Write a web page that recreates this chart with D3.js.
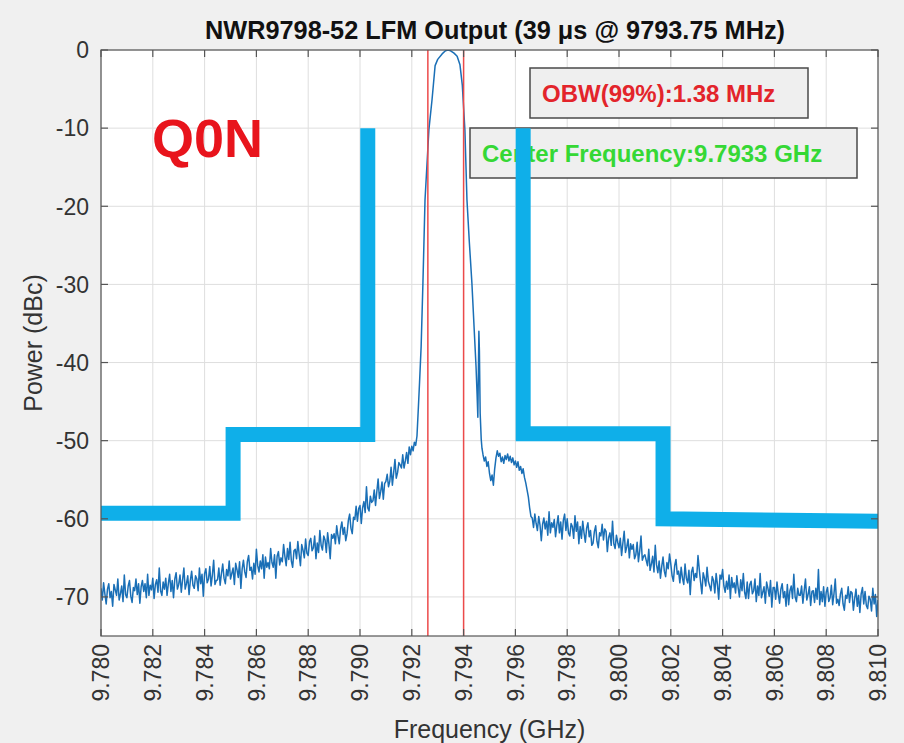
<!DOCTYPE html>
<html><head><meta charset="utf-8">
<script src="https://cdn.jsdelivr.net/npm/d3@7"></script>
<style>
html,body{margin:0;padding:0;background:#f0f0f0;}
svg{display:block;font-family:"Liberation Sans",Arial,Helvetica,sans-serif;}
</style></head>
<body>
<svg id="chart" width="904" height="743"></svg>
<script>
// ---- data ----
const titleText = "NWR9798-52 LFM Output (39 \u03bcs @ 9793.75 MHz)";
const xLabel = "Frequency (GHz)";
const yLabel = "Power (dBc)";
const freqTicks = [9.780,9.782,9.784,9.786,9.788,9.790,9.792,9.794,9.796,9.798,9.800,9.802,9.804,9.806,9.808,9.810];
const powerTicks = [0,-10,-20,-30,-40,-50,-60,-70];
const freqDomain = [9.780, 9.810];
const powerDomain = [-75, 0];
const baseGHz = 9.780; // spectrum offsets below are MHz above this frequency

// measured spectrum: [MHz offset from 9.780 GHz, dBc]
const leftFloor = [
[0.00,-68.9],[0.05,-70.4],[0.10,-68.2],[0.15,-69.6],[0.20,-70.9],[0.25,-69.0],[0.30,-68.3],[0.35,-70.1],[0.40,-69.3],[0.45,-71.2],
[0.50,-68.4],[0.55,-69.1],[0.60,-69.8],[0.65,-67.7],[0.70,-70.4],[0.75,-69.6],[0.80,-68.6],[0.85,-70.6],[0.90,-67.2],[0.95,-69.7],
[1.00,-70.1],[1.05,-68.6],[1.10,-67.9],[1.15,-69.9],[1.20,-70.7],[1.25,-68.8],[1.30,-69.2],[1.35,-67.7],[1.40,-69.7],[1.45,-68.3],
[1.50,-70.8],[1.55,-68.7],[1.60,-67.9],[1.65,-69.3],[1.70,-68.3],[1.75,-70.1],[1.80,-67.1],[1.85,-69.8],[1.90,-68.5],[1.95,-69.1],
[2.00,-67.6],[2.05,-70.2],[2.10,-68.4],[2.15,-67.8],[2.20,-69.4],[2.25,-66.3],[2.30,-69.2],[2.35,-69.8],[2.40,-68.1],[2.45,-69.0],
[2.50,-67.6],[2.55,-69.8],[2.60,-68.3],[2.65,-67.1],[2.70,-69.3],[2.75,-67.9],[2.80,-70.1],[2.85,-67.7],[2.90,-66.9],[2.95,-69.0],
[3.00,-68.4],[3.05,-67.2],[3.10,-69.4],[3.15,-67.8],[3.20,-66.3],[3.25,-69.0],[3.30,-68.3],[3.35,-67.3],[3.40,-69.7],[3.45,-67.9],
[3.50,-66.7],[3.55,-68.5],[3.60,-68.9],[3.65,-67.3],[3.70,-67.7],[3.75,-69.2],[3.80,-66.3],[3.85,-68.3],[3.90,-67.1],[3.95,-69.9],
[4.00,-67.0],[4.05,-66.4],[4.10,-68.2],[4.15,-67.7],[4.20,-66.1],[4.25,-68.6],[4.30,-67.2],[4.35,-65.3],[4.40,-68.4],[4.45,-67.9],
[4.50,-67.8],[4.55,-66.3],[4.60,-68.5],[4.65,-67.0],[4.70,-65.8],[4.75,-67.6],[4.80,-68.3],[4.85,-66.5],[4.90,-67.3],[4.95,-65.4],
[5.00,-67.7],[5.05,-67.0],[5.10,-66.3],[5.15,-68.4],[5.20,-65.7],[5.25,-66.5],[5.30,-67.5],[5.35,-65.5],[5.40,-68.9],[5.45,-66.4],
[5.50,-65.3],[5.55,-66.8],[5.60,-67.5],[5.65,-65.5],[5.70,-64.7],[5.75,-66.6],[5.80,-66.2],[5.85,-67.7],[5.90,-65.7],[5.95,-67.1],
[6.00,-63.9],[6.05,-66.0],[6.10,-66.8],[6.15,-65.4],[6.20,-66.4],[6.25,-64.6],[6.30,-67.6],[6.35,-64.9],[6.40,-66.2],[6.45,-65.6],
[6.50,-66.4],[6.55,-63.8],[6.60,-65.6],[6.65,-66.2],[6.70,-64.6],[6.75,-67.6],[6.80,-64.8],[6.85,-64.2],[6.90,-65.9],[6.95,-65.0],
[7.00,-65.5],[7.05,-63.3],[7.10,-64.8],[7.15,-66.0],[7.20,-63.8],[7.25,-65.2],[7.30,-63.0],[7.35,-65.4],[7.40,-66.2],[7.45,-64.1],
[7.50,-63.9],[7.55,-65.1],[7.60,-62.9],[7.65,-64.5],[7.70,-66.0],[7.75,-63.3],[7.80,-64.0],[7.85,-65.0],[7.90,-62.6],[7.95,-64.4],
[8.00,-64.7],[8.05,-62.9],[8.10,-62.5],[8.15,-64.1],[8.20,-63.7],[8.25,-62.2],[8.30,-65.1],[8.35,-63.1],[8.40,-64.3],[8.45,-61.5],
[8.50,-63.4],[8.55,-64.0],[8.60,-62.2],[8.65,-62.7],[8.70,-64.3],[8.75,-61.8],[8.80,-63.2],[8.85,-65.1],[8.90,-62.0],[8.95,-62.5],
[9.00,-61.9],[9.05,-63.2],[9.10,-60.9],[9.15,-62.2],[9.20,-63.2],[9.25,-61.3],[9.30,-60.4],[9.35,-62.0],[9.40,-61.1],[9.45,-62.8],
[9.50,-61.9],[9.55,-60.2],[9.60,-59.4],[9.65,-61.2],[9.70,-61.9],[9.75,-59.8],[9.80,-60.1],[9.85,-58.4],[9.90,-60.3],[9.95,-58.7],
[10.00,-58.3],[10.05,-60.6],[10.10,-58.6],[10.15,-57.8],[10.20,-59.2],[10.25,-55.9],[10.30,-58.6],[10.35,-59.0],[10.40,-57.1],[10.45,-57.9],
[10.50,-57.7],[10.55,-56.3],[10.60,-58.3],[10.65,-56.5],[10.70,-54.9],[10.75,-57.4],[10.80,-56.5],[10.85,-55.3],[10.90,-57.5],[10.95,-55.5],
[11.00,-55.2],[11.05,-54.3],[11.10,-55.9],[11.15,-55.2],[11.20,-53.4],[11.25,-55.7],[11.30,-54.1],[11.35,-52.4],[11.40,-54.8],[11.45,-54.1],
[11.50,-52.8],[11.55,-53.1],[11.60,-53.5],[11.65,-51.8],[11.70,-53.5],[11.75,-52.6],[11.80,-51.5],[11.85,-52.9],[11.90,-50.8],[11.95,-51.8],
[12.00,-50.7],[12.05,-51.3],[12.10,-50.2],[12.15,-50.6]
];
const mainLobe = [
[12.2,-49.4],[12.25,-46.0],[12.3,-42.5],[12.36,-38.0],[12.43,-29.8],[12.51,-19.2],[12.66,-10.2],[12.78,-6.4],
[12.9,-2.0],[13.0,-1.2],[13.17,-0.5],[13.3,-0.1],[13.4,0.0],[13.5,-0.1],[13.63,-0.4],[13.75,-0.8],[13.86,-1.9],
[13.95,-4.5],[14.05,-10.2],[14.13,-19.2],[14.22,-24.5],[14.32,-29.8],[14.48,-40.5],[14.52,-44.0],[14.55,-47.0],
[14.59,-36.0],[14.61,-38.5],[14.64,-46.5],[14.68,-49.8],[14.71,-51.0]
];
const rightFloor = [
[14.75,-51.8],[14.80,-52.6],[14.85,-52.1],[14.90,-53.3],[14.95,-52.7],[15.00,-54.2],[15.05,-55.1],[15.10,-54.4],[15.15,-55.7],[15.20,-53.6],
[15.25,-52.2],[15.30,-51.3],[15.35,-52.0],[15.40,-51.6],[15.45,-52.7],[15.50,-52.1],[15.55,-52.9],[15.60,-51.9],[15.65,-52.4],[15.70,-51.7],
[15.75,-52.6],[15.80,-52.0],[15.85,-52.8],[15.90,-52.2],[15.95,-53.1],[16.00,-52.6],[16.05,-53.4],[16.10,-52.7],[16.15,-53.8],[16.20,-53.3],
[16.25,-54.2],[16.30,-53.6],[16.35,-54.7],[16.40,-55.4],[16.45,-56.3],[16.50,-57.2],[16.55,-58.6],[16.60,-59.7],
[16.65,-59.9],[16.70,-61.1],[16.75,-59.4],[16.80,-60.6],[16.85,-61.5],[16.90,-59.7],[16.95,-60.8],
[17.00,-62.8],[17.05,-60.7],[17.10,-59.9],[17.15,-61.3],[17.20,-60.3],[17.25,-62.1],[17.30,-59.1],[17.35,-61.8],[17.40,-60.5],[17.45,-61.1],
[17.50,-60.1],[17.55,-62.3],[17.60,-60.8],[17.65,-59.6],[17.70,-61.8],[17.75,-60.4],[17.80,-62.6],[17.85,-60.2],[17.90,-59.4],[17.95,-61.5],
[18.00,-60.0],[18.05,-61.8],[18.10,-62.2],[18.15,-60.6],[18.20,-61.0],[18.25,-62.5],[18.30,-59.6],[18.35,-61.6],[18.40,-60.4],[18.45,-63.2],
[18.50,-61.0],[18.55,-62.5],[18.60,-60.3],[18.65,-61.8],[18.70,-63.0],[18.75,-61.2],[18.80,-60.5],[18.85,-62.3],[18.90,-61.5],[18.95,-63.4],
[19.00,-63.1],[19.05,-61.6],[19.10,-60.9],[19.15,-62.9],[19.20,-63.7],[19.25,-61.8],[19.30,-62.2],[19.35,-60.7],[19.40,-62.7],[19.45,-61.3],
[19.50,-61.6],[19.55,-64.2],[19.60,-62.4],[19.65,-61.8],[19.70,-63.4],[19.75,-60.3],[19.80,-63.2],[19.85,-63.8],[19.90,-62.1],[19.95,-63.0],
[20.00,-63.7],[20.05,-62.5],[20.10,-64.7],[20.15,-63.1],[20.20,-61.6],[20.25,-64.3],[20.30,-63.6],[20.35,-62.6],[20.40,-65.0],[20.45,-63.2],
[20.50,-63.9],[20.55,-63.3],[20.60,-65.1],[20.65,-64.6],[20.70,-63.0],[20.75,-65.5],[20.80,-64.1],[20.85,-62.2],[20.90,-65.3],[20.95,-64.8],
[21.00,-64.6],[21.05,-65.3],[21.10,-66.0],[21.15,-63.9],[21.20,-66.6],[21.25,-65.8],[21.30,-64.8],[21.35,-66.8],[21.40,-63.4],[21.45,-65.9],
[21.50,-66.9],[21.55,-65.4],[21.60,-67.6],[21.65,-66.1],[21.70,-64.9],[21.75,-66.7],[21.80,-67.4],[21.85,-65.6],[21.90,-66.4],[21.95,-64.5],
[22.00,-65.8],[22.05,-67.3],[22.10,-68.0],[22.15,-66.0],[22.20,-65.2],[22.25,-67.1],[22.30,-66.7],[22.35,-68.2],[22.40,-66.2],[22.45,-67.6],
[22.50,-68.4],[22.55,-65.8],[22.60,-67.6],[22.65,-68.2],[22.70,-66.6],[22.75,-69.7],[22.80,-66.8],[22.85,-66.2],[22.90,-67.9],[22.95,-67.0],
[23.00,-67.5],[23.05,-64.7],[23.10,-66.5],[23.15,-68.1],[23.20,-69.6],[23.25,-66.9],[23.30,-67.6],[23.35,-68.6],[23.40,-66.2],[23.45,-68.0],
[23.50,-68.6],[23.55,-69.2],[23.60,-67.4],[23.65,-67.9],[23.70,-69.5],[23.75,-67.0],[23.80,-68.4],[23.85,-70.3],[23.90,-67.2],[23.95,-67.7],
[24.00,-66.5],[24.05,-68.6],[24.10,-69.4],[24.15,-68.0],[24.20,-69.0],[24.25,-67.2],[24.30,-70.2],[24.35,-67.5],[24.40,-68.8],[24.45,-68.2],
[24.50,-69.5],[24.55,-67.3],[24.60,-68.8],[24.65,-70.0],[24.70,-67.8],[24.75,-69.2],[24.80,-67.0],[24.85,-69.4],[24.90,-70.2],[24.95,-68.1],
[25.00,-70.2],[25.05,-68.4],[25.10,-68.0],[25.15,-69.6],[25.20,-69.2],[25.25,-67.7],[25.30,-70.6],[25.35,-68.6],[25.40,-69.8],[25.45,-67.0],
[25.50,-70.1],[25.55,-69.4],[25.60,-68.7],[25.65,-70.8],[25.70,-68.1],[25.75,-68.9],[25.80,-69.9],[25.85,-67.9],[25.90,-71.3],[25.95,-68.8],
[26.00,-68.8],[26.05,-70.3],[26.10,-68.1],[26.15,-69.6],[26.20,-70.8],[26.25,-69.0],[26.30,-68.3],[26.35,-70.1],[26.40,-69.3],[26.45,-71.2],
[26.50,-68.4],[26.55,-71.0],[26.60,-69.2],[26.65,-68.6],[26.70,-70.2],[26.75,-67.1],[26.80,-70.0],[26.85,-70.6],[26.90,-68.9],[26.95,-69.8],
[27.00,-69.8],[27.05,-68.6],[27.10,-70.8],[27.15,-69.2],[27.20,-67.7],[27.25,-70.4],[27.30,-69.7],[27.35,-68.7],[27.40,-71.1],[27.45,-69.3],
[27.50,-69.2],[27.55,-70.7],[27.60,-68.9],[27.65,-70.3],[27.70,-66.5],[27.75,-71.0],[27.80,-69.3],[27.85,-70.6],[27.90,-68.7],[27.95,-71.2],
[28.00,-69.4],[28.05,-68.8],[28.10,-70.6],[28.15,-70.1],[28.20,-68.5],[28.25,-71.0],[28.30,-69.6],[28.35,-67.7],[28.40,-70.8],[28.45,-70.3],
[28.50,-71.1],[28.55,-69.6],[28.60,-68.9],[28.65,-70.9],[28.70,-71.7],[28.75,-69.8],[28.80,-70.2],[28.85,-68.7],[28.90,-70.7],[28.95,-69.3],
[29.00,-69.5],[29.05,-71.7],[29.10,-70.2],[29.15,-69.0],[29.20,-71.2],[29.25,-69.8],[29.30,-72.0],[29.35,-69.6],[29.40,-68.8],[29.45,-70.9],
[29.50,-69.3],[29.55,-71.1],[29.60,-71.5],[29.65,-69.9],[29.70,-70.3],[29.75,-71.8],[29.80,-68.9],[29.85,-70.9],[29.90,-69.7],[29.95,-72.5],
[30.00,-70.4]
];
// spectral emission mask: [GHz, dBc]
const maskLeft = [[9.780,-59.3],[9.7851,-59.3],[9.7851,-49.2],[9.7903,-49.2],[9.7903,-10]];
const maskRight = [[9.7963,-10],[9.7963,-49.1],[9.8017,-49.1],[9.8017,-60.0],[9.810,-60.3]];
// occupied bandwidth edges (GHz)
const obwEdges = [9.79262, 9.79400];
const obwText = "OBW(99%):1.38 MHz";
const centerText = "Center Frequency:9.7933 GHz";
const tagText = "Q0N";

// ---- layout ----
const L = 101, R = 878, T = 50, B = 636;
const svg = d3.select("#chart");
const x = d3.scaleLinear().domain(freqDomain).range([L, R]);
const y = d3.scaleLinear().domain(powerDomain).range([B, T]);

svg.append("rect").attr("width",904).attr("height",743).attr("fill","#f0f0f0");
svg.append("rect").attr("x",L).attr("y",T).attr("width",R-L).attr("height",B-T).attr("fill","#ffffff");

svg.append("defs").append("clipPath").attr("id","plotclip")
  .append("rect").attr("x",L).attr("y",T).attr("width",R-L).attr("height",B-T);

// grid
const grid = svg.append("g").attr("stroke","#dedede").attr("stroke-width",1);
grid.selectAll("line.gx").data(freqTicks).join("line")
  .attr("x1",d=>x(d)).attr("x2",d=>x(d)).attr("y1",T).attr("y2",B);
grid.selectAll("line.gy").data(powerTicks).join("line")
  .attr("y1",d=>y(d)).attr("y2",d=>y(d)).attr("x1",L).attr("x2",R);

const plot = svg.append("g").attr("clip-path","url(#plotclip)");

// spectrum trace
const spectrum = leftFloor.concat(mainLobe, rightFloor).map(d => [baseGHz + d[0]/1000, d[1]]);
const line = d3.line().x(d=>x(d[0])).y(d=>y(d[1]));
plot.append("path").datum(spectrum).attr("d",line)
  .attr("fill","none").attr("stroke","#1a6fb6").attr("stroke-width",1.5).attr("stroke-linejoin","round");

// OBW lines
plot.selectAll("line.obw").data(obwEdges).join("line")
  .attr("x1",d=>x(d)).attr("x2",d=>x(d)).attr("y1",T).attr("y2",B)
  .attr("stroke","#ec4a4a").attr("stroke-width",1.5);

// annotation boxes (figure coordinates)
function box(x0,y0,w,h,txt,color){
  svg.append("rect").attr("x",x0).attr("y",y0).attr("width",w).attr("height",h)
    .attr("fill","#efefef").attr("stroke","#4a4a4a").attr("stroke-width",1.5);
  svg.append("text").attr("x",x0+12).attr("y",y0+h/2).attr("dy","0.36em")
    .attr("fill",color).attr("font-weight","bold").attr("font-size",24).text(txt);
}
box(530,68,278,50,obwText,"#e3242b");
box(470,128,387,50,centerText,"#35d835");

// mask (drawn on top)
const maskG = svg.append("g").attr("clip-path","url(#plotclip)");
[maskLeft, maskRight].forEach(m => {
  maskG.append("path").datum(m).attr("d",line)
    .attr("fill","none").attr("stroke","#0fafe9").attr("stroke-width",15)
    .attr("stroke-linejoin","miter").attr("stroke-linecap","butt");
});

// axes box and ticks
const ax = svg.append("g").attr("stroke","#555").attr("stroke-width",1.2);
ax.append("rect").attr("x",L).attr("y",T).attr("width",R-L).attr("height",B-T).attr("fill","none");
const tl = 7;
freqTicks.forEach(t => {
  ax.append("line").attr("x1",x(t)).attr("x2",x(t)).attr("y1",B).attr("y2",B-tl);
  ax.append("line").attr("x1",x(t)).attr("x2",x(t)).attr("y1",T).attr("y2",T+tl);
});
powerTicks.forEach(t => {
  ax.append("line").attr("y1",y(t)).attr("y2",y(t)).attr("x1",L).attr("x2",L+tl);
  ax.append("line").attr("y1",y(t)).attr("y2",y(t)).attr("x1",R).attr("x2",R-tl);
});

// tick labels
const fmt = d3.format(".3f");
svg.append("g").selectAll("text").data(freqTicks).join("text")
  .attr("transform",d=>`translate(${x(d)},${B+8}) rotate(-90)`)
  .attr("text-anchor","end").attr("dy","0.36em")
  .attr("font-size",23).attr("fill","#333").text(d=>fmt(d));
svg.append("g").selectAll("text").data(powerTicks).join("text")
  .attr("x",L-12).attr("y",d=>y(d)).attr("dy","0.36em")
  .attr("text-anchor","end").attr("font-size",23).attr("fill","#333").text(d=>d);

// labels
svg.append("text").attr("x",(L+R)/2).attr("y",738).attr("text-anchor","middle")
  .attr("font-size",25).attr("fill","#333").text(xLabel);
svg.append("text").attr("transform",`translate(42,${(T+B)/2}) rotate(-90)`).attr("text-anchor","middle")
  .attr("font-size",25).attr("fill","#333").text(yLabel);
svg.append("text").attr("x",495).attr("y",39).attr("text-anchor","middle")
  .attr("font-size",25).attr("font-weight","bold").attr("fill","#111")
  .attr("textLength",580).attr("lengthAdjust","spacingAndGlyphs").text(titleText);

// tag
svg.append("text").attr("x",152).attr("y",157).attr("font-size",54).attr("font-weight","bold")
  .attr("fill","#e8141c").text(tagText);
</script>
</body></html>
